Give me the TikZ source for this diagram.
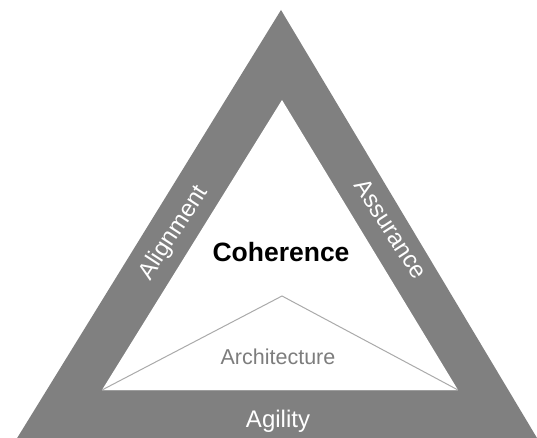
\documentclass[tikz,border=0pt]{standalone}
\usepackage{fontspec}
\setmainfont{Liberation Sans}
\definecolor{band}{RGB}{128,128,128}
\definecolor{archline}{RGB}{170,170,170}
\definecolor{archtext}{RGB}{125,125,125}
\tikzset{
  bandlabel/.style={text=white, inner sep=0pt, font=\fontsize{24}{28}\selectfont},
}
\begin{document}
\begin{tikzpicture}[x=1pt,y=1pt]
\useasboundingbox (0,0) rectangle (537,438);
\clip (0,0) rectangle (537,438);
\fill[white] (0,0) rectangle (537,438);
% outer triangle
\coordinate (oa) at (281,428);
\coordinate (ol) at (11,-10);
\coordinate (or) at (543,-10);
\fill[band] (oa) -- (ol) -- (or) -- cycle;
% inner white triangle
\coordinate (ia) at (282,338);
\coordinate (il) at (102,48);
\coordinate (ir) at (458,48);
\fill[white] (ia) -- (il) -- (ir) -- cycle;
% architecture triangle
\coordinate (aa) at (282,142);
\draw[archline, line width=1pt, line join=miter] (il) -- (aa) -- (ir);
\draw[archline!70!band, line width=0.8pt] (il) -- (ir);
% labels
\node[font=\bfseries\fontsize{26.5}{30}\selectfont, inner sep=0pt] (coh) at (281,186) {Coherence};
\node[text=archtext, font=\fontsize{21.5}{25}\selectfont, inner sep=0pt] (arch) at (278,81) {Architecture};
\node[bandlabel, anchor=base] (agi) at (278,10) {Agility};
\node[bandlabel, rotate=57] (ali) at (174,205) {Alignment};
\node[bandlabel, rotate=-57] (ass) at (391,209) {Assurance};
\end{tikzpicture}
\end{document}
